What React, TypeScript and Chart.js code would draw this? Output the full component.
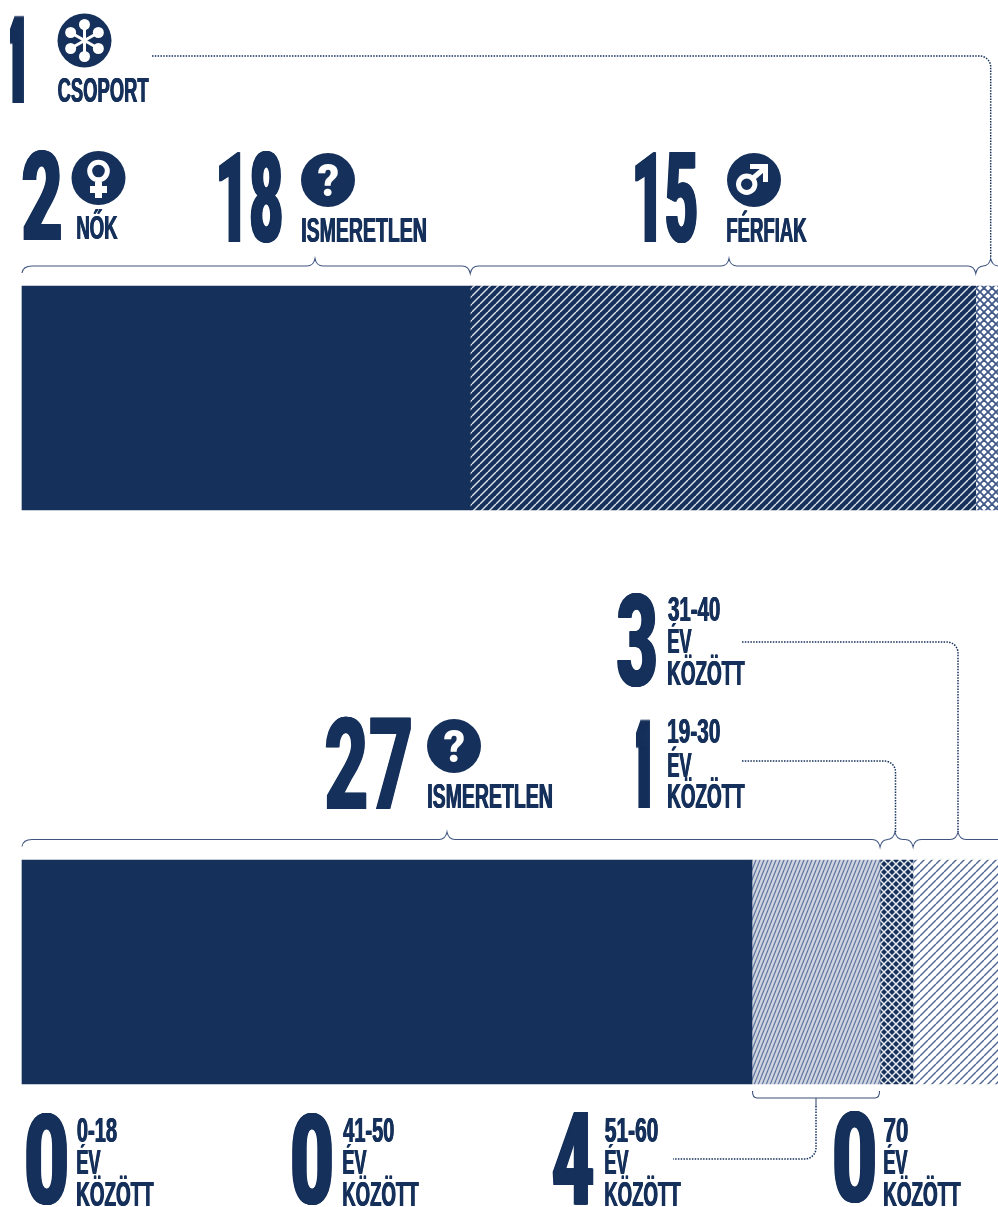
import React, { useEffect, useRef } from "react";
import { Chart, registerables } from "chart.js";

Chart.register(...registerables);

const rows = ["Nem", "Életkor"];
const genderSegments = [13.3, 15, 2];
const ageSegments = [21.66, 3.8, 0.98, 3];
const axisMax = 28.96;

const NAVY = "#15305a";
const LINE = "#3f5580";
const FONT = '"Liberation Sans Narrow", "Liberation Sans", sans-serif';
const DIGIT_FONT = 'Roboto, "Liberation Sans", sans-serif';

function tile(w: number, h: number, bg: string | null, draw: (c: CanvasRenderingContext2D) => void) {
  const cv = document.createElement("canvas");
  cv.width = w;
  cv.height = h;
  const c = cv.getContext("2d")!;
  if (bg) {
    c.fillStyle = bg;
    c.fillRect(0, 0, w, h);
  }
  draw(c);
  return c.createPattern(cv, "repeat")!;
}

function slashes(c: CanvasRenderingContext2D, w: number, h: number, color: string, lw: number, back = false) {
  c.strokeStyle = color;
  c.lineWidth = lw;
  for (const off of [-w, 0, w]) {
    c.beginPath();
    if (back) {
      c.moveTo(off, 0);
      c.lineTo(off + w, h);
    } else {
      c.moveTo(off, h);
      c.lineTo(off + w, 0);
    }
    c.stroke();
  }
}

function textCaps(
  c: CanvasRenderingContext2D, t: string, x0: number, x1: number, base: number, capH: number,
  clipAbove = 0,
) {
  const b = 0.4;
  c.save();
  if (clipAbove) {
    c.beginPath();
    c.rect(x0 - 3, base - capH - clipAbove, x1 - x0 + 6, capH + clipAbove + 6);
    c.clip();
  }
  c.font = `bold 100px ${FONT}`;
  c.fillStyle = NAVY;
  c.textBaseline = "alphabetic";
  c.textAlign = "left";
  const m = c.measureText(t);
  const sy = capH / c.measureText("H").actualBoundingBoxAscent;
  const sx = (x1 - x0 - 2 * b) / (m.actualBoundingBoxRight + m.actualBoundingBoxLeft);
  for (const d of [-b, 0, b]) {
    c.save();
    c.translate(x0 + b + d + m.actualBoundingBoxLeft * sx, base);
    c.scale(sx, sy);
    c.fillText(t, 0, 0);
    c.restore();
  }
  c.restore();
}

function textBox(
  c: CanvasRenderingContext2D, t: string, x0: number, x1: number, top: number, bottom: number, b: number,
  color = NAVY,
) {
  c.save();
  c.font = `900 100px ${DIGIT_FONT}`;
  c.fillStyle = color;
  c.textBaseline = "alphabetic";
  c.textAlign = "left";
  const m = c.measureText(t);
  const sy = (bottom - top) / (m.actualBoundingBoxAscent + m.actualBoundingBoxDescent);
  const sx = (x1 - x0 - 2 * b) / (m.actualBoundingBoxRight + m.actualBoundingBoxLeft);
  for (let d = -b; d <= b + 0.001; d += 0.5) {
    c.save();
    c.translate(x0 + b + d + m.actualBoundingBoxLeft * sx, bottom - m.actualBoundingBoxDescent * sy);
    c.scale(sx, sy);
    c.fillText(t, 0, 0);
    c.restore();
  }
  c.restore();
}

function brace(c: CanvasRenderingContext2D, y: number, marks: [number, number][], start: number, end: number) {
  const w = 8;
  c.save();
  c.strokeStyle = LINE;
  c.lineWidth = 1.1;
  c.beginPath();
  c.moveTo(start, y + 7);
  c.quadraticCurveTo(start + 1, y, start + 10, y);
  for (const [x, dir] of marks) {
    c.lineTo(x - w, y);
    c.quadraticCurveTo(x - 1.5, y, x, y + dir * 7.5);
    c.quadraticCurveTo(x + 1.5, y, x + w, y);
  }
  c.lineTo(end, y);
  c.stroke();
  c.restore();
}

function dotted(c: CanvasRenderingContext2D, pts: [number, number][]) {
  c.save();
  c.strokeStyle = NAVY;
  c.lineWidth = 1.5;
  c.setLineDash([1.5, 1.3]);
  c.beginPath();
  c.moveTo(pts[0][0], pts[0][1]);
  c.arcTo(pts[1][0], pts[1][1], pts[2][0], pts[2][1], 11);
  c.lineTo(pts[2][0], pts[2][1]);
  c.stroke();
  c.restore();
}

function disc(c: CanvasRenderingContext2D, x: number, y: number, r = 27) {
  c.fillStyle = NAVY;
  c.beginPath();
  c.arc(x, y, r, 0, Math.PI * 2);
  c.fill();
}

function snowIcon(c: CanvasRenderingContext2D, x: number, y: number) {
  disc(c, x, y);
  c.fillStyle = "#fff";
  c.strokeStyle = "#fff";
  for (let i = 0; i < 6; i++) {
    const a = (Math.PI / 3) * i + Math.PI / 6;
    const ex = x + Math.cos(a) * 16;
    const ey = y + Math.sin(a) * 16;
    c.lineWidth = 3;
    c.beginPath();
    c.moveTo(x, y);
    c.lineTo(ex, ey);
    c.stroke();
    c.beginPath();
    c.arc(ex, ey, 5.5, 0, Math.PI * 2);
    c.fill();
  }
}

function femaleIcon(c: CanvasRenderingContext2D, x: number, y: number) {
  disc(c, x, y);
  c.strokeStyle = "#fff";
  c.fillStyle = "#fff";
  c.lineWidth = 5;
  c.beginPath();
  c.arc(x, y - 7, 8.8, 0, Math.PI * 2);
  c.stroke();
  c.fillRect(x - 3.5, y + 4, 7, 16);
  c.fillRect(x - 8.5, y + 8, 17, 7);
}

function maleIcon(c: CanvasRenderingContext2D, x: number, y: number) {
  disc(c, x, y);
  c.strokeStyle = "#fff";
  c.fillStyle = "#fff";
  c.lineWidth = 5;
  c.beginPath();
  c.arc(x - 7.3, y + 4.3, 8.2, 0, Math.PI * 2);
  c.stroke();
  c.beginPath();
  c.moveTo(x - 2, y - 1);
  c.lineTo(x + 12, y - 13);
  c.stroke();
  c.beginPath();
  c.moveTo(x - 4, y - 16);
  c.lineTo(x + 14, y - 16);
  c.lineTo(x + 14, y + 2);
  c.lineTo(x + 9, y + 2);
  c.lineTo(x + 9, y - 11);
  c.lineTo(x - 4, y - 11);
  c.closePath();
  c.fill();
}

function questionIcon(c: CanvasRenderingContext2D, x: number, y: number) {
  disc(c, x, y);
  textBox(c, "?", x - 10, x + 10, y - 17, y + 16, 0, "#fff");
}

const annotations = {
  id: "annotations",
  afterDatasetsDraw(chart: any) {
    const c: CanvasRenderingContext2D = chart.ctx;
    const xs = chart.scales.x;
    const px = (v: number) => xs.getPixelForValue(v);
    const a0 = genderSegments[0];
    const a1 = a0 + genderSegments[1];
    const b0 = ageSegments[0];
    const b1 = b0 + ageSegments[1];
    const b2 = b1 + ageSegments[2];
    const left = px(0);

    // top row
    textBox(c, "1", 10, 24, 14, 102.5, 4.5);
    snowIcon(c, 84.5, 40.5);
    textCaps(c, "CSOPORT", 58, 149, 102, 24);
    textBox(c, "2", 22, 61, 150, 240, 1);
    femaleIcon(c, 98.5, 178);
    textCaps(c, "NŐK", 77, 118, 239, 23);
    textBox(c, "18", 219, 282, 151, 243, 1);
    questionIcon(c, 328, 180);
    textCaps(c, "ISMERETLEN", 302, 426, 242, 24);
    textBox(c, "15", 635, 697, 151, 243, 1);
    maleIcon(c, 754, 180);
    textCaps(c, "FÉRFIAK", 727, 807, 242, 24);

    brace(c, 266, [[315, -1], [px(a0), 1], [729, -1], [px(a1), 1], [990.7, -1]], left, 998);
    dotted(c, [[152, 56], [990.7, 56], [990.7, 257]]);

    // middle block
    textBox(c, "3", 617, 656, 594, 687, 1);
    textCaps(c, "31-40", 668, 720, 621, 24);
    textCaps(c, "ÉV", 668, 692, 653, 24, 6);
    textCaps(c, "KÖZÖTT", 668, 745, 685, 24, 6.5);
    textBox(c, "1", 636, 650, 719, 808, 4.5);
    textCaps(c, "19-30", 668, 720, 743, 24);
    textCaps(c, "ÉV", 668, 692, 776.5, 24, 6);
    textCaps(c, "KÖZÖTT", 668, 745, 807.5, 24, 6.5);
    textBox(c, "27", 325, 411, 717, 809, 0.5);
    questionIcon(c, 454, 746);
    textCaps(c, "ISMERETLEN", 428, 552, 808, 24);

    brace(
      c, 839.5,
      [[447, -1], [px(b1), 1], [895, -1], [px(b2), 1], [958, -1]],
      left, 998,
    );
    dotted(c, [[742, 642], [958, 642], [958, 832]]);
    dotted(c, [[742, 761], [895.5, 761], [895.5, 832]]);

    // bottom block
    textBox(c, "0", 26, 67, 1113, 1205, 1);
    textCaps(c, "0-18", 77, 117, 1142, 24);
    textCaps(c, "ÉV", 77, 101, 1174, 24, 6);
    textCaps(c, "KÖZÖTT", 77, 154, 1206, 24, 6.5);
    textBox(c, "0", 292, 332, 1113, 1205, 1);
    textCaps(c, "41-50", 343, 394, 1142, 24);
    textCaps(c, "ÉV", 343, 367, 1174, 24, 6);
    textCaps(c, "KÖZÖTT", 343, 419, 1206, 24, 6.5);
    textBox(c, "4", 552, 594, 1113, 1205, 1);
    textCaps(c, "51-60", 605, 658, 1142, 24);
    textCaps(c, "ÉV", 605, 629, 1174, 24, 6);
    textCaps(c, "KÖZÖTT", 605, 681, 1206, 24, 6.5);
    textBox(c, "0", 834, 875, 1111, 1203, 1);
    textCaps(c, "70", 884, 908, 1142, 24);
    textCaps(c, "ÉV", 884, 908, 1174, 24, 6);
    textCaps(c, "KÖZÖTT", 884, 961, 1206, 24, 6.5);

    // lower bracket
    const l = px(b0);
    const r = px(b1);
    c.save();
    c.strokeStyle = "#3a5178";
    c.lineWidth = 1.1;
    c.beginPath();
    c.moveTo(l + 0.5, 1091);
    c.quadraticCurveTo(l + 0.5, 1098, l + 5, 1098);
    c.lineTo(r - 5, 1098);
    c.quadraticCurveTo(r - 0.5, 1098, r - 0.5, 1091);
    c.moveTo(816, 1098);
    c.lineTo(816, 1106);
    c.stroke();
    c.restore();
    dotted(c, [[816, 1106], [816, 1159], [673, 1159]]);
  },
};

export default function App() {
  const ref = useRef<HTMLCanvasElement>(null);
  useEffect(() => {
    const hatchMale = tile(8, 8, NAVY, (c) => slashes(c, 8, 8, "#dfe3ea", 1.4));
    const crossLight = tile(8, 8, "#fff", (c) => {
      slashes(c, 8, 8, "#3f5a88", 1.8);
      slashes(c, 8, 8, "#3f5a88", 1.8, true);
    });
    const crossDark = tile(8, 8, NAVY, (c) => {
      slashes(c, 8, 8, "#e6e9ef", 1.5);
      slashes(c, 8, 8, "#e6e9ef", 1.5, true);
    });
    const steep = tile(4, 10, "#cfd4de", (c) => slashes(c, 4, 10, "#5d73a0", 1.2));
    const lines = tile(8, 8, "#fff", (c) => slashes(c, 8, 8, "#4f6796", 1.4));

    const gFills = [NAVY, hatchMale, crossLight];
    const aFills = [NAVY, steep, crossDark, lines];
    const common = { stack: "s", barThickness: 224, borderWidth: 0, clip: false as const };
    const chart = new Chart(ref.current!, {
      type: "bar",
      data: {
        labels: rows,
        datasets: [
          ...genderSegments.map((v, i) => ({ ...common, data: [v, null], backgroundColor: gFills[i] })),
          ...ageSegments.map((v, i) => ({ ...common, data: [null, v], backgroundColor: aFills[i] })),
        ] as any,
      },
      options: {
        indexAxis: "y",
        responsive: false,
        animation: false,
        layout: { padding: { left: 22, right: 0, top: 398, bottom: 235 } },
        plugins: { legend: { display: false }, tooltip: { enabled: false } },
        scales: {
          x: { stacked: true, display: false, min: 0, max: axisMax },
          y: { stacked: true, display: false, offset: false },
        },
      },
      plugins: [annotations],
    });
    return () => chart.destroy();
  }, []);
  return (
    <div style={{ position: "absolute", left: 0, top: 0, width: 998, height: 1207, overflow: "hidden" }}>
      <canvas ref={ref} width={998} height={1207} style={{ display: "block", width: 998, height: 1207 }} />
    </div>
  );
}
